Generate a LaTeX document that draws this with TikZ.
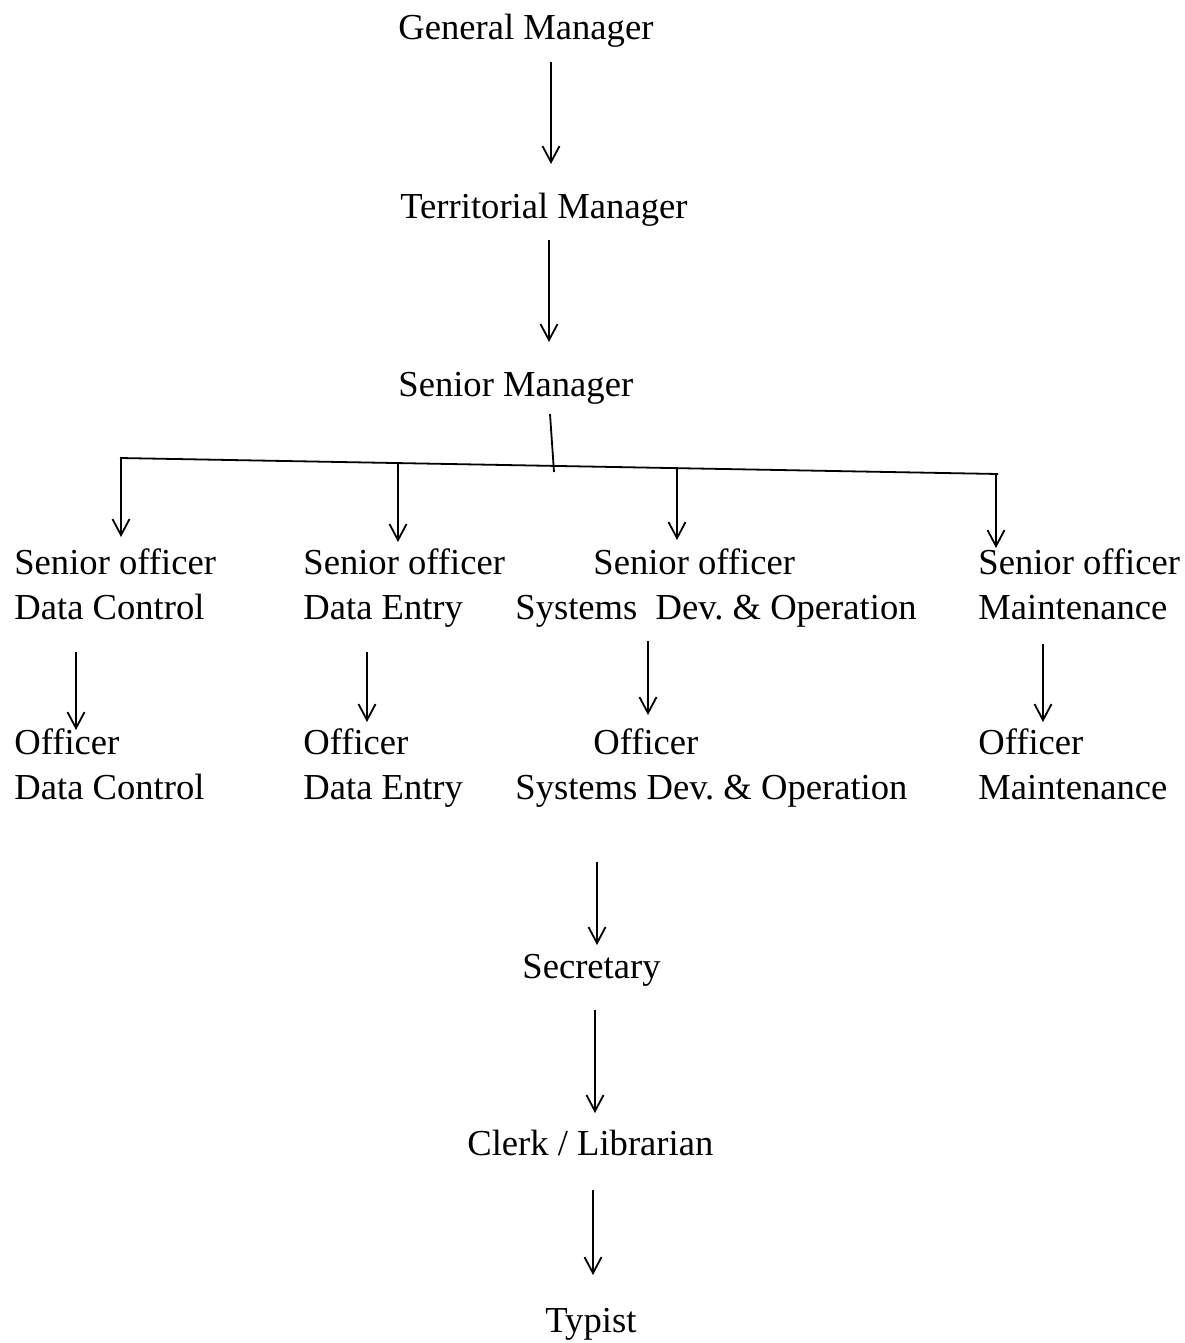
\documentclass[tikz,border=0pt]{standalone}
\usepackage{fontspec}
\setmainfont{Liberation Serif}
\usetikzlibrary{arrows.meta}
\frenchspacing
\begin{document}
\begin{tikzpicture}[x=0.5pt,y=-0.5pt,
  lbl/.style={anchor=base west,inner sep=0pt,align=left,font=\fontsize{18.3}{22.3}\selectfont},
  arr/.style={draw,line width=0.9pt,-{Straight Barb[length=8pt,width=8.5pt,line width=0.9pt]}},
  ln/.style={draw,line width=0.9pt}]
\useasboundingbox[fill=white] (0,0) rectangle (1184,1343);
% texts (multi-line nodes: base = baseline of last line)
\node[lbl] (gm) at (398,40) {General Manager};
\node[lbl] (tm) at (400,218) {Territorial Manager};
\node[lbl] (sm) at (398,396) {Senior Manager};
\node[lbl] (so1) at (14,619) {Senior officer\\Data Control};
\node[lbl] (so2) at (303,619) {Senior officer\\Data Entry};
\node[lbl] (so3) at (515,619) {\hspace*{39pt}Senior officer\\Systems\ \ Dev. \& Operation};
\node[lbl] (so4) at (978,619) {Senior officer\\Maintenance};
\node[lbl] (of1) at (14,799) {Officer\\Data Control};
\node[lbl] (of2) at (303,799) {Officer\\Data Entry};
\node[lbl] (of3) at (515,799) {\hspace*{39pt}Officer\\Systems Dev. \& Operation};
\node[lbl] (of4) at (978,799) {Officer\\Maintenance};
\node[lbl] (sec) at (522,978) {Secretary};
\node[lbl] (clk) at (467,1155) {Clerk / Librarian};
\node[lbl] (typ) at (545,1332) {Typist};
% connector points
\coordinate (a1s) at (551,62);  \coordinate (a1e) at (551,164);
\coordinate (a2s) at (549,240); \coordinate (a2e) at (549,342);
\coordinate (vs) at (550,414);  \coordinate (ve) at (554,472);
\coordinate (bl) at (120,458);  \coordinate (br) at (998,474);
\coordinate (d1s) at (121,458); \coordinate (d1e) at (121,537);
\coordinate (d2s) at (398,463); \coordinate (d2e) at (398,542);
\coordinate (d3s) at (677,467); \coordinate (d3e) at (677,540);
\coordinate (d4s) at (996,474); \coordinate (d4e) at (996,548);
\coordinate (e1s) at (76,652);  \coordinate (e1e) at (76,730);
\coordinate (e2s) at (367,652); \coordinate (e2e) at (367,722);
\coordinate (e3s) at (648,641); \coordinate (e3e) at (648,715);
\coordinate (e4s) at (1043,644);\coordinate (e4e) at (1043,722);
\coordinate (f1s) at (597,862); \coordinate (f1e) at (597,945);
\coordinate (f2s) at (595,1010);\coordinate (f2e) at (595,1113);
\coordinate (f3s) at (593,1190);\coordinate (f3e) at (593,1275);
% connectors
\draw[arr] (a1s) -- (a1e);
\draw[arr] (a2s) -- (a2e);
\draw[ln] (vs) -- (ve);
\draw[ln] (bl) -- (br);
\draw[arr] (d1s) -- (d1e);
\draw[arr] (d2s) -- (d2e);
\draw[arr] (d3s) -- (d3e);
\draw[arr] (d4s) -- (d4e);
\draw[arr] (e1s) -- (e1e);
\draw[arr] (e2s) -- (e2e);
\draw[arr] (e3s) -- (e3e);
\draw[arr] (e4s) -- (e4e);
\draw[arr] (f1s) -- (f1e);
\draw[arr] (f2s) -- (f2e);
\draw[arr] (f3s) -- (f3e);
\end{tikzpicture}
\end{document}
